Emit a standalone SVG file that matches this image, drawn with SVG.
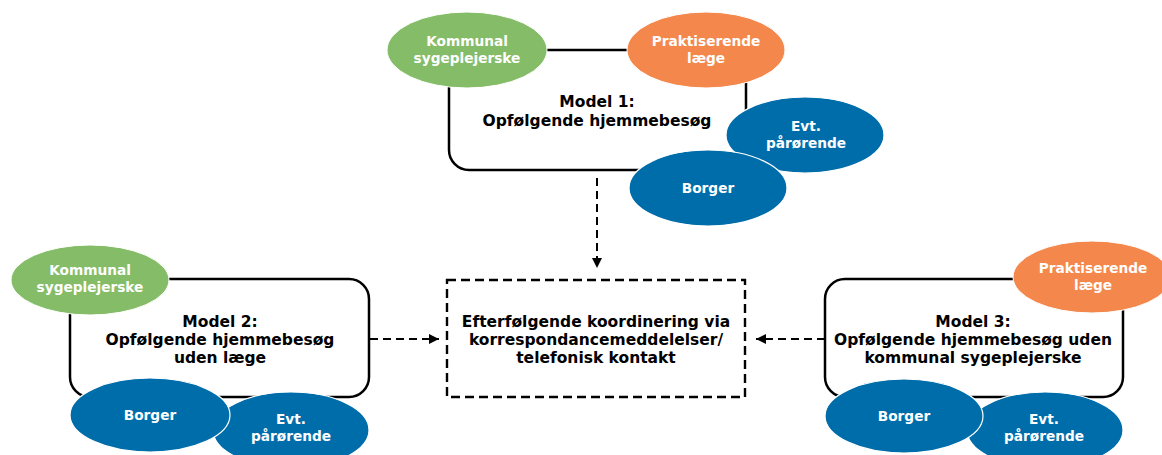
<svg xmlns="http://www.w3.org/2000/svg" width="1162" height="455" viewBox="0 0 1162 455">
<defs>
<style>
.box{fill:#fff;stroke:#000;stroke-width:2.5}
.dbox{fill:#fff;stroke:#000;stroke-width:2.4;stroke-dasharray:9,5}
.dash{fill:none;stroke:#000;stroke-width:2;stroke-dasharray:8,5}
.green{fill:#84bc67;stroke:#fff;stroke-width:1}
.orange{fill:#f4874b;stroke:#fff;stroke-width:1}
.blue{fill:#006dab;stroke:#fff;stroke-width:1.2}
.et{font-family:"DejaVu Sans",Verdana,sans-serif;font-weight:bold;font-size:13.7px;fill:#fff;text-anchor:middle}
.bt{font-family:"DejaVu Sans",Verdana,sans-serif;font-weight:bold;font-size:15.5px;fill:#000;text-anchor:middle}
</style>
<marker id="ah" viewBox="0 0 10 10" refX="10" refY="5" markerWidth="10" markerHeight="10" markerUnits="userSpaceOnUse" orient="auto">
<path d="M0,0 L10,5 L0,10 z" fill="#000"/>
</marker>
</defs>

<g id="connectors">
<line class="dash" x1="597" y1="178" x2="597" y2="268" marker-end="url(#ah)"/>
<line class="dash" x1="370" y1="339" x2="439" y2="339" marker-end="url(#ah)"/>
<line class="dash" x1="825" y1="339" x2="756" y2="339" marker-end="url(#ah)"/>
</g>

<g id="model1">
<rect class="box" x="449" y="50" width="297" height="120" rx="20"/>
<text class="bt" x="597" y="107">Model 1:</text>
<text class="bt" x="597" y="126">Opfølgende hjemmebesøg</text>
</g>
<g id="m1-kommunal">
<ellipse class="green" cx="467" cy="50" rx="80" ry="38"/>
<text class="et" x="467" y="46">Kommunal</text>
<text class="et" x="467" y="63">sygeplejerske</text>
</g>
<g id="m1-laege">
<ellipse class="orange" cx="706" cy="50" rx="79" ry="38"/>
<text class="et" x="706" y="46">Praktiserende</text>
<text class="et" x="706" y="63">læge</text>
</g>
<g id="m1-paaroerende">
<ellipse class="blue" cx="805" cy="135" rx="79" ry="38"/>
<text class="et" x="806" y="131">Evt.</text>
<text class="et" x="806" y="148">pårørende</text>
</g>
<g id="m1-borger">
<ellipse class="blue" cx="708" cy="188" rx="79" ry="38"/>
<text class="et" x="708" y="193">Borger</text>
</g>

<g id="koordinering">
<rect class="dbox" x="447" y="280" width="298" height="117"/>
<text class="bt" x="596" y="327">Efterfølgende koordinering via</text>
<text class="bt" x="596" y="345">korrespondancemeddelelser/</text>
<text class="bt" x="596" y="363">telefonisk kontakt</text>
</g>

<g id="model2">
<rect class="box" x="70" y="279" width="299" height="118" rx="20"/>
<text class="bt" x="220" y="327">Model 2:</text>
<text class="bt" x="220" y="345">Opfølgende hjemmebesøg</text>
<text class="bt" x="220" y="363">uden læge</text>
</g>
<g id="m2-kommunal">
<ellipse class="green" cx="90" cy="280" rx="79" ry="35"/>
<text class="et" x="90" y="275">Kommunal</text>
<text class="et" x="90" y="292">sygeplejerske</text>
</g>
<g id="m2-paaroerende">
<ellipse class="blue" cx="291" cy="430" rx="78" ry="38"/>
<text class="et" x="291" y="424">Evt.</text>
<text class="et" x="291" y="441">pårørende</text>
</g>
<g id="m2-borger">
<ellipse class="blue" cx="150" cy="415" rx="80" ry="37"/>
<text class="et" x="150" y="420">Borger</text>
</g>

<g id="model3">
<rect class="box" x="825" y="279" width="298" height="118" rx="20"/>
<text class="bt" x="973" y="327">Model 3:</text>
<text class="bt" x="973" y="345">Opfølgende hjemmebesøg uden</text>
<text class="bt" x="973" y="363">kommunal sygeplejerske</text>
</g>
<g id="m3-laege">
<ellipse class="orange" cx="1092" cy="277" rx="79" ry="36"/>
<text class="et" x="1093" y="273">Praktiserende</text>
<text class="et" x="1093" y="290">læge</text>
</g>
<g id="m3-paaroerende">
<ellipse class="blue" cx="1045" cy="430" rx="78" ry="38"/>
<text class="et" x="1044" y="424">Evt.</text>
<text class="et" x="1044" y="441">pårørende</text>
</g>
<g id="m3-borger">
<ellipse class="blue" cx="904" cy="416" rx="79" ry="37"/>
<text class="et" x="904" y="421">Borger</text>
</g>
</svg>
